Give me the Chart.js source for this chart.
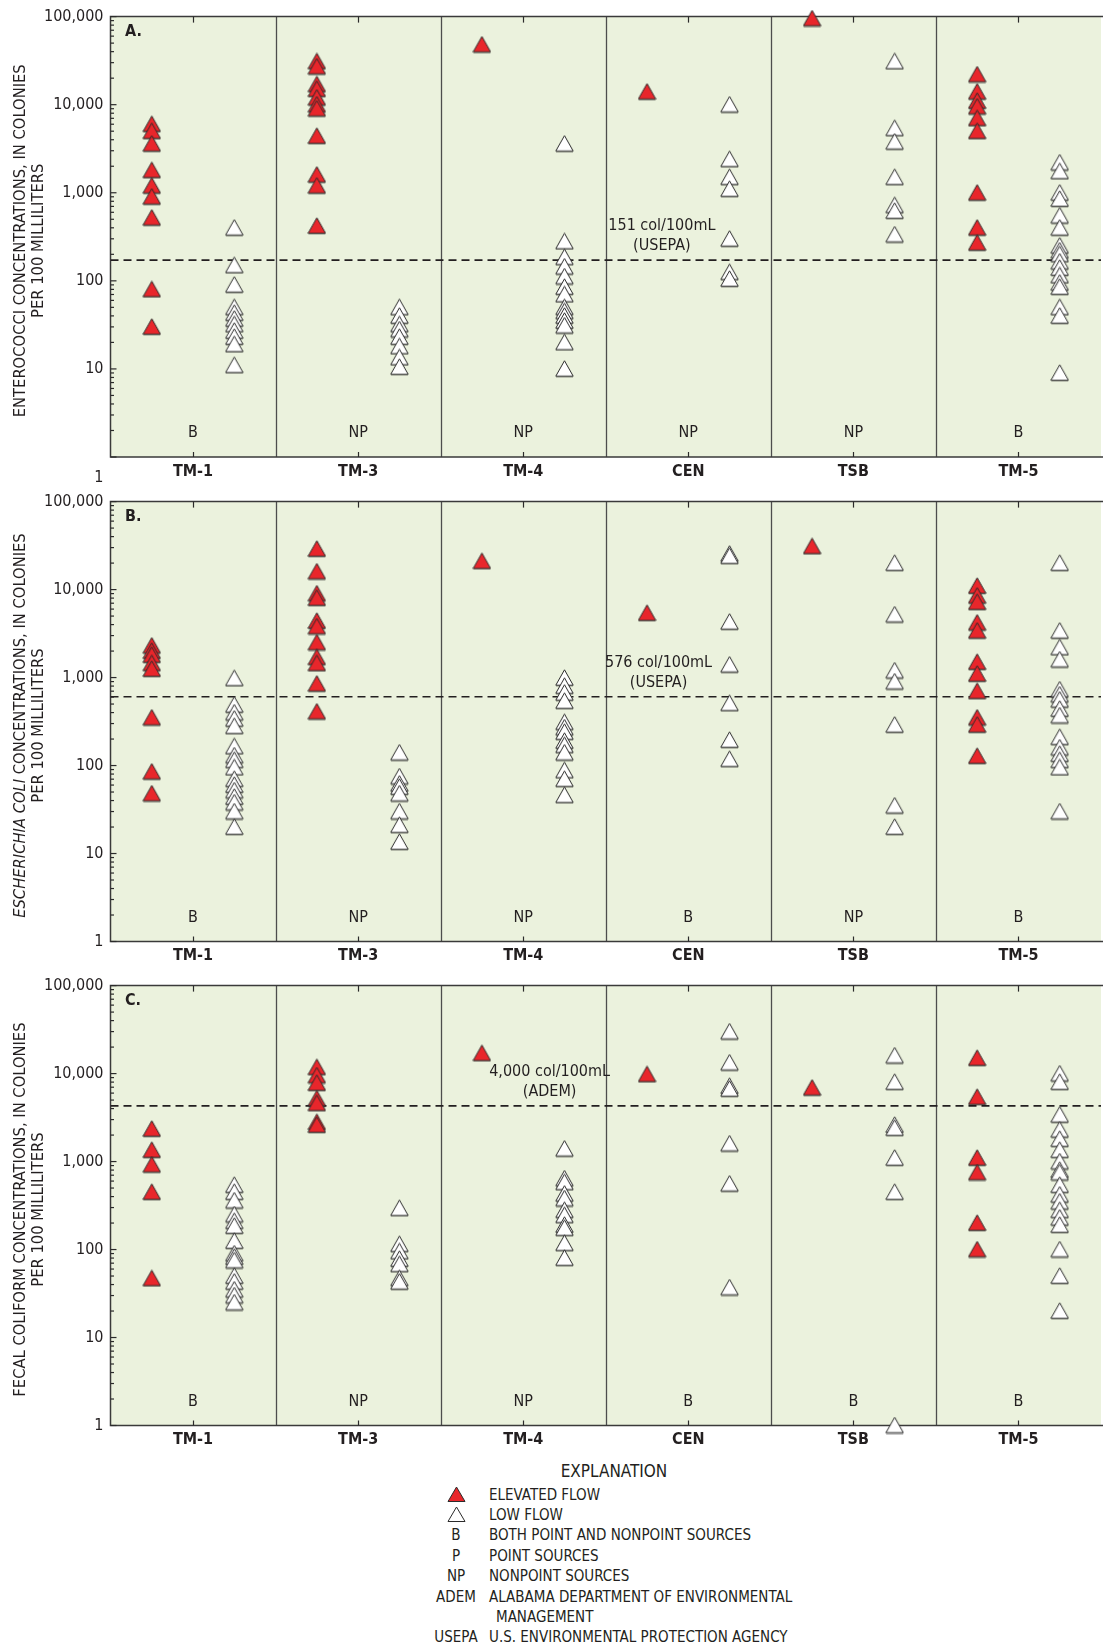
<!DOCTYPE html>
<html>
<head>
<meta charset="utf-8">
<script src="https://cdn.jsdelivr.net/npm/chart.js@4.4.1/dist/chart.umd.min.js"></script>
<style>
  html, body { margin: 0; padding: 0; background: #fff; overflow: hidden; }
  body { width: 1106px; height: 1648px; position: relative; color: #231f20;
         font-family: 'Liberation Sans Narrow', 'DejaVu Sans Condensed', 'Liberation Sans', sans-serif; }
  canvas { position: absolute; left: 0; }
  .lg { position: absolute; font-size: 15px; line-height: 20px; white-space: nowrap; }
  .key { position: absolute; width: 80px; left: 416px; text-align: center; font-size: 15px; line-height: 20px; }
</style>
</head>
<body>
<canvas id="panelA" width="1110" height="485" style="top:0px"></canvas>
<canvas id="panelB" width="1110" height="485" style="top:485px"></canvas>
<canvas id="panelC" width="1110" height="485" style="top:969px"></canvas>

<div class="lg" style="left:414px;width:400px;text-align:center;top:1461px;font-size:17px;">EXPLANATION</div>
<svg style="position:absolute;left:447px;top:1486px" width="19" height="17"><polygon points="9.5,1 18,15.5 1,15.5" fill="#e8262b" stroke="#2b2b2b" stroke-width="1"/></svg>
<div class="lg" style="left:489px;top:1485px">ELEVATED FLOW</div>
<svg style="position:absolute;left:447px;top:1506px" width="19" height="17"><polygon points="9.5,1 18,15.5 1,15.5" fill="#fff" stroke="#2b2b2b" stroke-width="1"/></svg>
<div class="lg" style="left:489px;top:1505px">LOW FLOW</div>
<div class="key" style="top:1525px">B</div>
<div class="lg" style="left:489px;top:1525px">BOTH POINT AND NONPOINT SOURCES</div>
<div class="key" style="top:1546px">P</div>
<div class="lg" style="left:489px;top:1546px">POINT SOURCES</div>
<div class="key" style="top:1566px">NP</div>
<div class="lg" style="left:489px;top:1566px">NONPOINT SOURCES</div>
<div class="key" style="top:1587px">ADEM</div>
<div class="lg" style="left:489px;top:1587px">ALABAMA DEPARTMENT OF ENVIRONMENTAL</div>
<div class="lg" style="left:496px;top:1607px">MANAGEMENT</div>
<div class="key" style="top:1627px">USEPA</div>
<div class="lg" style="left:489px;top:1627px">U.S. ENVIRONMENTAL PROTECTION AGENCY</div>

<script>
const FONT = "'Liberation Sans Narrow', 'DejaVu Sans Condensed', 'Liberation Sans', sans-serif";
const INK = '#231f20';

// sampling sites and y tick labels
const sites = ['TM-1', 'TM-3', 'TM-4', 'CEN', 'TSB', 'TM-5'];
const yTicks = [1, 10, 100, 1000, 10000, 100000];

// source type under each site
const sourcesA = ['B', 'NP', 'NP', 'NP', 'NP', 'B'];
const sourcesB = ['B', 'NP', 'NP', 'B', 'NP', 'B'];
const sourcesC = ['B', 'NP', 'NP', 'B', 'B', 'B'];

// A. enterococci, col/100mL, one list per site
const entHigh = [
  [6000, 5000, 3600, 1800, 1200, 900, 520, 80, 30],
  [31000, 27000, 17000, 15000, 12000, 10000, 9000, 4400, 1600, 1200, 420],
  [48000],
  [14000],
  [95000],
  [22000, 14000, 11000, 9500, 7000, 5000, 1000, 400, 270]
];
const entLow = [
  [400, 150, 90, 50, 43, 37, 32, 27, 23, 19, 11],
  [50, 40, 32, 28, 23, 18, 13.5, 10.5],
  [3600, 280, 185, 145, 112, 85, 70, 50, 45, 40, 35, 31, 20, 10],
  [10000, 2400, 1500, 1100, 300, 125, 105],
  [31000, 5400, 3800, 1500, 720, 620, 335],
  [2200, 1750, 1000, 850, 550, 400, 250, 220, 200, 165, 140, 115, 95, 85, 50, 40, 9]
];
const entLine = 172;

// B. E. coli
const ecoHigh = [
  [2300, 2000, 1800, 1450, 1250, 350, 85, 48],
  [29000, 16000, 9000, 8000, 4400, 3800, 2500, 1700, 1450, 850, 410],
  [21000],
  [5400],
  [31000],
  [11000, 8500, 7200, 4200, 3400, 1500, 1100, 700, 350, 290, 128]
];
const ecoLow = [
  [980, 490, 400, 340, 280, 165, 130, 115, 95, 70, 60, 52, 44, 38, 30, 20],
  [140, 75, 62, 57, 48, 30, 21, 13.5],
  [990, 800, 670, 540, 310, 270, 240, 190, 170, 140, 88, 70, 46],
  [25500, 24000, 4300, 1400, 510, 195, 118],
  [20000, 5200, 1200, 900, 290, 35, 20],
  [20000, 3400, 2200, 1600, 730, 640, 560, 440, 370, 210, 160, 135, 115, 95, 30]
];
const ecoLine = 605;

// C. fecal coliform
const fcHigh = [
  [2350, 1350, 920, 450, 47],
  [11800, 9500, 7800, 5200, 4600, 2800, 2600],
  [17000],
  [9800],
  [6900],
  [15000, 5400, 1100, 750, 200, 100]
];
const fcLow = [
  [540, 450, 360, 250, 210, 185, 125, 90, 82, 75, 50, 43, 35, 30, 25],
  [295, 115, 95, 78, 68, 47, 43],
  [1400, 640, 580, 430, 380, 280, 245, 190, 175, 118, 80],
  [30000, 13300, 7200, 6700, 1600, 560, 37],
  [16000, 8000, 2600, 2400, 1100, 450, 1],
  [10000, 8000, 3400, 2300, 1800, 1350, 1000, 800, 750, 540, 420, 350, 280, 230, 190, 100, 50, 20]
];
const fcLine = 4300;

function triangleImg(fill) {
  const c = document.createElement('canvas');
  c.width = 19; c.height = 18;
  const g = c.getContext('2d');
  g.beginPath();
  g.moveTo(9.5, 0.8); g.lineTo(18.2, 16.2); g.lineTo(0.8, 16.2); g.closePath();
  g.fillStyle = fill; g.fill();
  g.lineWidth = 1; g.strokeStyle = '#2b2b2b'; g.stroke();
  g.strokeStyle = 'rgba(0,0,0,0.3)';
  g.beginPath(); g.moveTo(1, 17.2); g.lineTo(18, 17.2); g.stroke();
  return c;
}
const redTri = triangleImg('#e8262b');
const whiteTri = triangleImg('#ffffff');

function toPoints(lists, offset) {
  var pts = [];
  lists.forEach(function (vals, i) {
    vals.forEach(function (v) { pts.push({ x: i + offset, y: v }); });
  });
  return pts;
}

function fmt(v) { return v.toLocaleString('en-US'); }

const deco = {
  id: 'deco',
  beforeDraw(chart) {
    const a = chart.chartArea, ctx = chart.ctx;
    ctx.save();
    ctx.fillStyle = '#ebf2dd';
    ctx.fillRect(a.left, a.top, a.right - a.left, a.bottom - a.top);
    ctx.restore();
  },
  beforeDatasetsDraw(chart) {
    const a = chart.chartArea, ctx = chart.ctx;
    const xs = chart.scales.x, ys = chart.scales.y;
    ctx.save();
    // site dividers
    ctx.strokeStyle = '#4d4d4d';
    ctx.lineWidth = 1.3;
    for (var k = 1; k < sites.length; k++) {
      var px = Math.round(xs.getPixelForValue(k)) + 0.5;
      ctx.beginPath(); ctx.moveTo(px, a.top); ctx.lineTo(px, a.bottom); ctx.stroke();
    }
    // frame
    ctx.strokeStyle = '#3a3a3a';
    ctx.lineWidth = 1.5;
    ctx.beginPath();
    ctx.moveTo(a.right + 2, a.top); ctx.lineTo(a.left, a.top);
    ctx.lineTo(a.left, a.bottom); ctx.lineTo(a.right + 2, a.bottom);
    ctx.stroke();
    // log ticks on the left, inside
    ctx.lineWidth = 1.2;
    ctx.strokeStyle = '#2b2b2b';
    for (var d = 0; d <= 5; d++) {
      for (var m = 1; m <= 9; m++) {
        var v = m * Math.pow(10, d);
        if (v > 100000) break;
        var py = ys.getPixelForValue(v);
        var len = m === 1 ? 6 : 3.5;
        ctx.beginPath(); ctx.moveTo(a.left, py); ctx.lineTo(a.left + len, py); ctx.stroke();
      }
    }
    // site ticks top and bottom
    sites.forEach(function (s, i) {
      var px = Math.round(xs.getPixelForValue(i + 0.5)) + 0.5;
      ctx.beginPath(); ctx.moveTo(px, a.top); ctx.lineTo(px, a.top + 6); ctx.stroke();
      ctx.beginPath(); ctx.moveTo(px, a.bottom); ctx.lineTo(px, a.bottom - 5); ctx.stroke();
    });
    ctx.restore();
  },
  afterDraw(chart) {
    const p = chart.options.plugins.deco;
    const a = chart.chartArea, ctx = chart.ctx;
    const xs = chart.scales.x, ys = chart.scales.y;
    ctx.save();
    ctx.fillStyle = INK;
    ctx.textBaseline = 'middle';
    // panel letter
    ctx.font = 'bold 16px ' + FONT;
    ctx.textAlign = 'left';
    ctx.fillText(p.letter, a.left + 14.5, a.top + 15);
    // source type labels
    ctx.font = '16px ' + FONT;
    ctx.textAlign = 'center';
    p.sources.forEach(function (s, i) {
      ctx.fillText(s, xs.getPixelForValue(i + 0.5), a.bottom - 24);
    });
    // criterion label
    var lx = xs.getPixelForValue(p.labelX), ly = ys.getPixelForValue(p.line);
    ctx.fillText(p.lineLabel[0], lx, ly - 34);
    ctx.fillText(p.lineLabel[1], lx, ly - 14);
    // stray "1" label in panel A
    if (p.lowOne) {
      ctx.textAlign = 'right';
      ctx.fillText('1', a.left - 7, a.bottom + 21);
    }
    // y axis title, two rotated lines
    var cy = (a.top + a.bottom) / 2 + 4;
    [[p.title1, 21], [p.title2, 39]].forEach(function (t) {
      var segs = t[0];
      ctx.save();
      ctx.translate(t[1], cy);
      ctx.rotate(-Math.PI / 2);
      var total = 0;
      segs.forEach(function (sg) {
        ctx.font = (sg.italic ? 'italic ' : '') + p.titleSize + 'px ' + FONT;
        total += ctx.measureText(sg.text).width;
      });
      var x0 = -total / 2;
      ctx.textAlign = 'left';
      segs.forEach(function (sg) {
        ctx.font = (sg.italic ? 'italic ' : '') + p.titleSize + 'px ' + FONT;
        ctx.fillText(sg.text, x0, 0);
        x0 += ctx.measureText(sg.text).width;
      });
      ctx.restore();
    });
    ctx.restore();
  }
};

function makePanel(canvasId, cfg) {
  const axisH = cfg.height - cfg.padTop - 444.5;
  new Chart(document.getElementById(canvasId), {
    type: 'scatter',
    data: {
      datasets: [
        {
          data: toPoints(cfg.high, 0.25),
          pointStyle: redTri, pointRadius: 8, clip: false
        },
        {
          data: toPoints(cfg.low, 0.75),
          pointStyle: whiteTri, pointRadius: 8, clip: false
        },
        {
          type: 'line',
          data: [{ x: 0, y: cfg.line }, { x: 6, y: cfg.line }],
          borderColor: INK, borderWidth: 1.6, borderDash: [8, 5],
          pointRadius: 0, fill: false
        }
      ]
    },
    options: {
      responsive: false,
      animation: false,
      layout: { padding: { top: cfg.padTop, left: 0, right: 1.5, bottom: 0 } },
      plugins: {
        legend: { display: false },
        tooltip: { enabled: false },
        deco: cfg
      },
      scales: {
        x: {
          type: 'linear', min: 0, max: 6,
          grid: { display: false, drawTicks: false },
          border: { display: false },
          afterBuildTicks: function (s) {
            s.ticks = sites.map(function (n, i) { return { value: i + 0.5 }; });
          },
          afterFit: function (s) { s.height = axisH; },
          ticks: {
            autoSkip: false, maxRotation: 0, padding: 5, color: INK,
            font: { family: FONT, size: 16, weight: 'bold' },
            callback: function (v) { return sites[Math.floor(v)]; }
          }
        },
        y: {
          type: 'logarithmic', min: 1, max: 100000,
          grid: { display: false, drawTicks: false },
          border: { display: false },
          afterBuildTicks: function (s) {
            s.ticks = yTicks.map(function (v) { return { value: v }; });
          },
          afterFit: function (s) { s.width = 110.5; },
          ticks: {
            autoSkip: false, padding: 7, color: INK,
            font: { family: FONT, size: 16 },
            callback: function (v) { return (cfg.lowOne && v === 1) ? '' : fmt(v); }
          }
        }
      }
    },
    plugins: [deco]
  });
}

makePanel('panelA', {
  height: 485, padTop: 12.5, letter: 'A.', sources: sourcesA,
  high: entHigh, low: entLow, line: entLine,
  lineLabel: ['151 col/100mL', '(USEPA)'], labelX: 3.34, lowOne: true, titleSize: 16.4,
  title1: [{ text: 'ENTEROCOCCI CONCENTRATIONS, IN COLONIES' }],
  title2: [{ text: 'PER 100 MILLILITERS' }]
});
makePanel('panelB', {
  height: 485, padTop: 12, letter: 'B.', sources: sourcesB,
  high: ecoHigh, low: ecoLow, line: ecoLine,
  lineLabel: ['576 col/100mL', '(USEPA)'], labelX: 3.32, lowOne: false, titleSize: 16.4,
  title1: [{ text: 'ESCHERICHIA COLI', italic: true }, { text: ' CONCENTRATIONS, IN COLONIES' }],
  title2: [{ text: 'PER 100 MILLILITERS' }]
});
makePanel('panelC', {
  height: 485, padTop: 12, letter: 'C.', sources: sourcesC,
  high: fcHigh, low: fcLow, line: fcLine,
  lineLabel: ['4,000 col/100mL', '(ADEM)'], labelX: 2.66, lowOne: false, titleSize: 16.4,
  title1: [{ text: 'FECAL COLIFORM CONCENTRATIONS, IN COLONIES' }],
  title2: [{ text: 'PER 100 MILLILITERS' }]
});
</script>
</body>
</html>
